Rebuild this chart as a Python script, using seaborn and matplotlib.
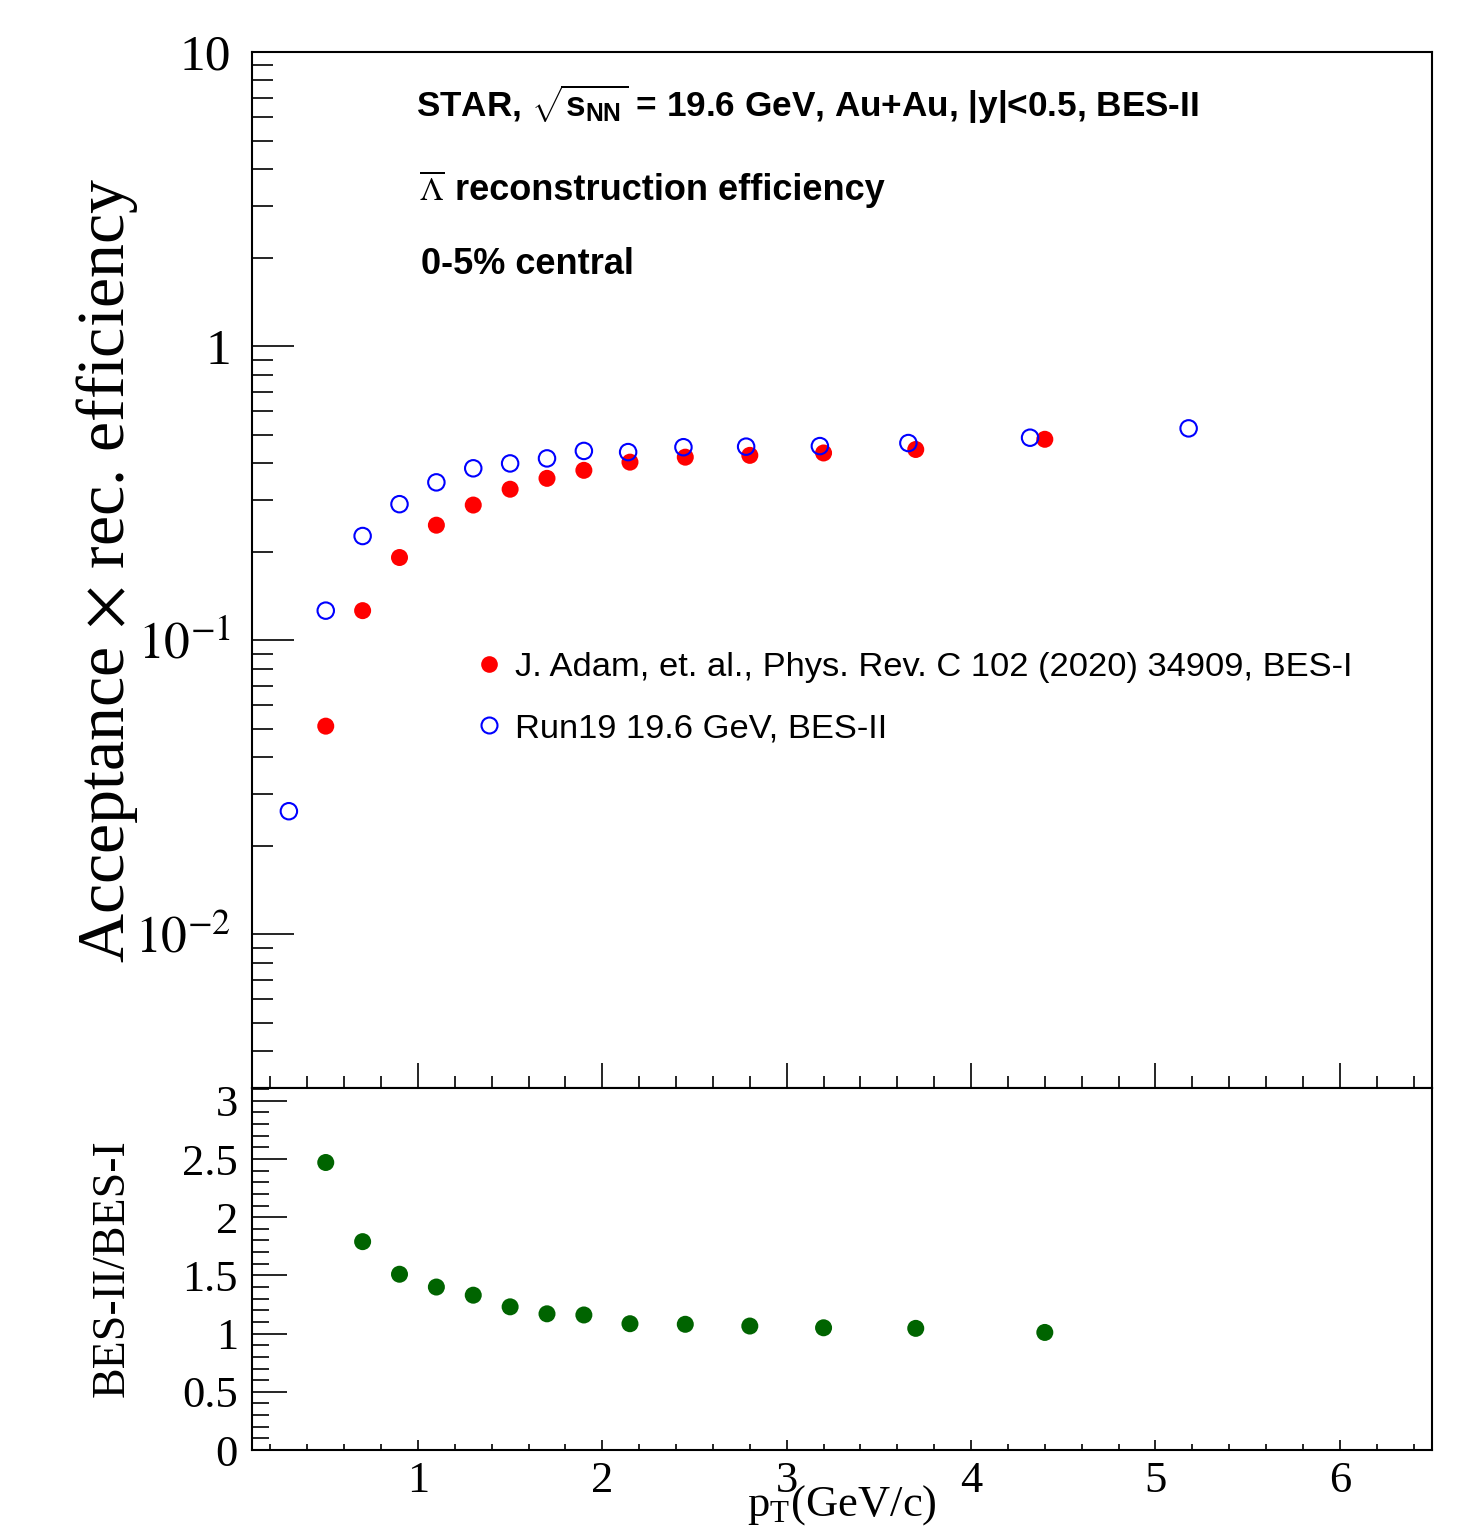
import numpy as np
import pandas as pd
import matplotlib
matplotlib.use("Agg")
import matplotlib.pyplot as plt
from matplotlib.lines import Line2D
from matplotlib.ticker import (MultipleLocator, LogLocator, NullFormatter, FixedLocator,
                               FixedFormatter, FuncFormatter)
import seaborn as sns

# BES-I efficiency (published)
pt_bes1 = [0.5, 0.7, 0.9, 1.1, 1.3, 1.5, 1.7, 1.9, 2.15, 2.45, 2.8, 3.2, 3.7, 4.4]
eff_bes1 = [0.051, 0.126, 0.191, 0.246, 0.288, 0.326, 0.355, 0.378, 0.403, 0.419,
            0.425, 0.433, 0.445, 0.482]

# BES-II efficiency (Run19 embedding)
pt_bes2 = [0.3, 0.5, 0.7, 0.9, 1.1, 1.3, 1.5, 1.7, 1.9, 2.14, 2.44, 2.78, 3.18, 3.66, 4.32, 5.18]
eff_bes2 = [0.0262, 0.126, 0.226, 0.290, 0.344, 0.384, 0.399, 0.415, 0.440, 0.436,
            0.453, 0.455, 0.457, 0.468, 0.488, 0.525]

# BES-II / BES-I ratio at BES-I bin centres
ratio = [2.47, 1.79, 1.51, 1.40, 1.33, 1.23, 1.17, 1.16, 1.085, 1.08, 1.065, 1.05, 1.045, 1.01]

legend_labels = ["J. Adam, et. al., Phys. Rev. C 102 (2020) 34909, BES-I",
                 "Run19 19.6 GeV, BES-II"]
top_yticks = [0.01, 0.1, 1, 10]
top_yticklabels = [r"$10^{-2}$", r"$10^{-1}$", "1", "10"]

df1 = pd.DataFrame({"pt": pt_bes1, "eff": eff_bes1, "ratio": ratio})
df2 = pd.DataFrame({"pt": pt_bes2, "eff": eff_bes2})

sns.set_theme(style="ticks")
plt.rcParams.update({
    "font.family": ["Liberation Serif", "DejaVu Serif"],
    "mathtext.fontset": "stix",
    "mathtext.rm": "Liberation Sans:bold",
    "mathtext.it": "Liberation Sans:bold",
    "mathtext.bf": "Liberation Sans:bold",
    "text.color": "black",
    "axes.labelcolor": "black",
    "axes.edgecolor": "black",
    "xtick.color": "black",
    "ytick.color": "black",
    "axes.linewidth": 1.5,
})

W, H = 1464, 1530
fig = plt.figure(figsize=(W / 100, H / 100), dpi=100)
fig.patch.set_facecolor("white")

L, R = 252, 1432
ax1 = fig.add_axes([L / W, 1 - 1088 / H, (R - L) / W, (1088 - 52) / H])
ax2 = fig.add_axes([L / W, 1 - 1450 / H, (R - L) / W, (1450 - 1088) / H])

# ---- top panel: efficiencies ----
sns.scatterplot(data=df1, x="pt", y="eff", ax=ax1, marker="o", s=150,
                color="#ff0000", edgecolor="none", linewidth=0, legend=False, zorder=3)
sns.scatterplot(data=df2, x="pt", y="eff", ax=ax1, marker="o", s=140,
                color="#0000ff", facecolor="none", edgecolor="#0000ff",
                linewidth=1.5, legend=False, zorder=4)

ax1.set_yscale("log")
ax1.set_xlim(0.1, 6.5)
ax1.set_ylim(0.003, 10)
ax1.set_xlabel("")
ax1.set_ylabel("")
ax1.xaxis.set_major_locator(MultipleLocator(1))
ax1.xaxis.set_minor_locator(MultipleLocator(0.2))
ax1.yaxis.set_major_locator(FixedLocator(top_yticks))
ax1.yaxis.set_major_formatter(FixedFormatter(top_yticklabels))
ax1.yaxis.set_minor_locator(LogLocator(base=10, subs=np.arange(2, 10), numticks=100))
ax1.yaxis.set_minor_formatter(NullFormatter())
ax1.tick_params(axis="x", which="major", direction="in", length=18, width=1.2,
                bottom=True, top=False, labelbottom=False)
ax1.tick_params(axis="x", which="minor", direction="in", length=8.5, width=1.2,
                bottom=True, top=False)
ax1.tick_params(axis="y", which="major", direction="in", length=30, width=1.2,
                left=True, right=False, labelsize=37, pad=15)
ax1.tick_params(axis="y", which="minor", direction="in", length=15, width=1.2,
                left=True, right=False)
for sp in ax1.spines.values():
    sp.set_linewidth(1.5)

ax1.text((416 - L) / (R - L), (1088 - 117) / 1036,
         r"STAR, $\sqrt{\mathrm{s}_{\mathrm{NN}}}$ = 19.6 GeV, Au+Au, |y|<0.5, BES-II",
         transform=ax1.transAxes, family="Liberation Sans", fontweight="bold",
         fontsize=25.3, math_fontfamily="custom", va="baseline", ha="left")
ax1.text((419 - L) / (R - L), (1088 - 200) / 1036, r"$\overline{\Lambda}$",
         transform=ax1.transAxes, fontsize=24, math_fontfamily="stix",
         va="baseline", ha="left")
ax1.text((455 - L) / (R - L), (1088 - 200) / 1036, "reconstruction efficiency",
         transform=ax1.transAxes, family="Liberation Sans", fontweight="bold",
         fontsize=26, va="baseline", ha="left")
ax1.text((421 - L) / (R - L), (1088 - 274) / 1036, "0-5% central",
         transform=ax1.transAxes, family="Liberation Sans", fontweight="bold",
         fontsize=26, va="baseline", ha="left")

handles = [
    Line2D([], [], ls="", marker="o", markersize=12, color="#ff0000", markeredgewidth=0),
    Line2D([], [], ls="", marker="o", markersize=11.5, markerfacecolor="none",
           markeredgecolor="#0000ff", markeredgewidth=1.5),
]
ax1.legend(handles, legend_labels, loc="upper left",
           bbox_to_anchor=((472 - L) / (R - L), (1088 - 652) / 1036),
           frameon=False, borderpad=0, borderaxespad=0, handlelength=1.0,
           handletextpad=0.25, labelspacing=0.88,
           prop={"family": "Liberation Sans", "size": 24.8})

fig.text(107 / W, 1 - 570 / H, r"Acceptance $\times$ rec. efficiency",
         rotation=90, ha="center", va="center", fontsize=49)

# ---- bottom panel: ratio ----
sns.scatterplot(data=df1, x="pt", y="ratio", ax=ax2, marker="o", s=150,
                color="#006400", edgecolor="none", linewidth=0, legend=False, zorder=3)
ax2.set_xlim(0.1, 6.5)
ax2.set_ylim(0, 3.11)
ax2.set_xlabel("")
ax2.set_ylabel("")
ax2.xaxis.set_major_locator(MultipleLocator(1))
ax2.xaxis.set_minor_locator(MultipleLocator(0.2))
ax2.yaxis.set_major_locator(MultipleLocator(0.5))
ax2.yaxis.set_minor_locator(MultipleLocator(0.1))
ax2.yaxis.set_major_formatter(FuncFormatter(lambda v, p: f"{v:g}"))
ax2.xaxis.set_major_formatter(FuncFormatter(lambda v, p: f"{v:g}"))
ax2.tick_params(axis="x", which="major", direction="in", length=7.5, width=1.2,
                bottom=True, top=False, labelsize=32, pad=8)
ax2.tick_params(axis="x", which="minor", direction="in", length=4, width=1.2,
                bottom=True, top=False)
ax2.tick_params(axis="y", which="major", direction="in", length=25, width=1.2,
                left=True, right=False, labelsize=32, pad=10)
ax2.tick_params(axis="y", which="minor", direction="in", length=12, width=1.2,
                left=True, right=False)
for sp in ax2.spines.values():
    sp.set_linewidth(1.5)

fig.text(112 / W, 1 - 1268 / H, "BES-II/BES-I", rotation=90,
         ha="center", va="center", fontsize=33)
ax2.text(0.5, (1450 - 1516) / 362, r"p$_{\mathregular{T}}$(GeV/c)",
         transform=ax2.transAxes, ha="center", va="baseline", fontsize=32,
         math_fontfamily="stix", clip_on=False)

fig.savefig("out.png", dpi=100, facecolor="white")
